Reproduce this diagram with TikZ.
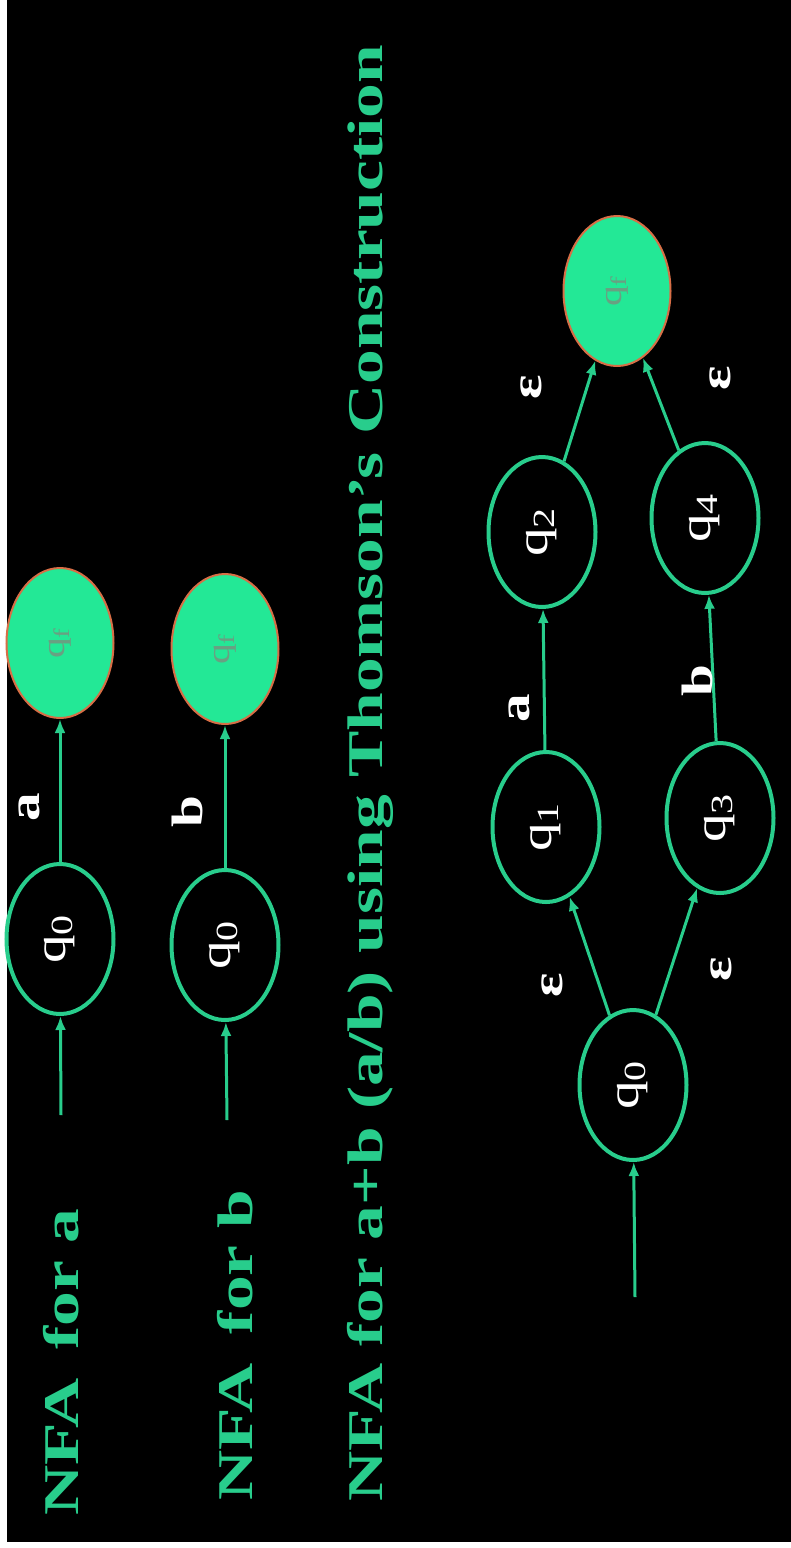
\documentclass[tikz,border=0pt]{standalone}
\usepackage{fontspec}
\usepackage{graphicx}
\setmainfont{Liberation Serif}
\usetikzlibrary{shapes.geometric,arrows.meta}

\definecolor{nfagreen}{RGB}{40,205,140}
\definecolor{finfill}{RGB}{35,232,150}
\definecolor{finborder}{RGB}{215,110,70}
\definecolor{fintext}{RGB}{105,160,130}

\newcommand{\qlab}[1]{\scalebox{1.3}[1]{q\textsubscript{#1}}}

\tikzset{
	nstate/.style={ellipse, draw=nfagreen, line width=2pt, rotate=90,
		minimum width=75pt, minimum height=53.5pt, inner sep=0pt,
		text=white, font=\fontsize{22}{22}\selectfont},
	nfinal/.style={nstate, fill=finfill, draw=finborder, line width=1pt,
		text=fintext, font=\fontsize{16}{16}\selectfont},
	title/.style={rotate=90, xscale=1.39, text=nfagreen, inner sep=0pt,
		font=\bfseries\fontsize{25}{28}\selectfont},
	lbl/.style={rotate=90, xscale=1.3, text=white, inner sep=0pt,
		font=\bfseries\fontsize{22}{22}\selectfont},
	tr/.style={draw=nfagreen, line width=1.5pt, -{Latex[length=7pt,width=5.5pt]}}
}

\begin{document}
\begin{tikzpicture}[x=0.5pt,y=-0.5pt]
	\useasboundingbox (0,0) rectangle (791,1548);
	\fill[white] (0,0) rectangle (791,1548);
	\fill[black] (7,0) rectangle (791,1542);

	% titles
	\node[title] (ta) at (61,1362) {NFA\, for a};
	\node[title] (tb) at (235,1345) {NFA\, for b};
	\node[title] (tab) at (370,773) {NFA for a+b (a/b) using Thomson's Construction};

	% NFA for a
	\coordinate (sa) at (61,1115);
	\node[nstate] (qa0) at (60,939) {\qlab{0}};
	\node[nfinal] (qaf) at (60,643) {\qlab{f}};
	\draw[tr] (sa) -- (qa0);
	\draw[tr] (qa0) -- (qaf);
	\node[lbl] (la) at (29,807) {a};

	% NFA for b
	\coordinate (sb) at (227,1120);
	\node[nstate] (qb0) at (225,945) {\qlab{0}};
	\node[nfinal] (qbf) at (225,649) {\qlab{f}};
	\draw[tr] (sb) -- (qb0);
	\draw[tr] (qb0) -- (qbf);
	\node[lbl] (lb) at (187,812) {b};

	% NFA for a+b
	\coordinate (s) at (635,1297);
	\node[nstate] (p0) at (633,1085) {\qlab{0}};
	\node[nstate] (p1) at (546,827) {\qlab{1}};
	\node[nstate] (p3) at (720,818) {\qlab{3}};
	\node[nstate] (p2) at (542,532) {\qlab{2}};
	\node[nstate] (p4) at (705,518) {\qlab{4}};
	\node[nfinal] (pf) at (617,291) {\qlab{f}};

	\draw[tr] (s) -- (p0);
	\draw[tr] (p0) -- (p1);
	\draw[tr] (p0) -- (p3);
	\draw[tr] (p1) -- (p2);
	\draw[tr] (p3) -- (p4);
	\draw[tr] (p2) -- (pf);
	\draw[tr] (p4) -- (pf);

	\node[lbl] (e1) at (552,985) {ε};
	\node[lbl] (e3) at (721,969) {ε};
	\node[lbl] (l12) at (519,708) {a};
	\node[lbl] (l34) at (697,681) {b};
	\node[lbl] (e2) at (531,387) {ε};
	\node[lbl] (e4) at (720,378) {ε};
\end{tikzpicture}
\end{document}
